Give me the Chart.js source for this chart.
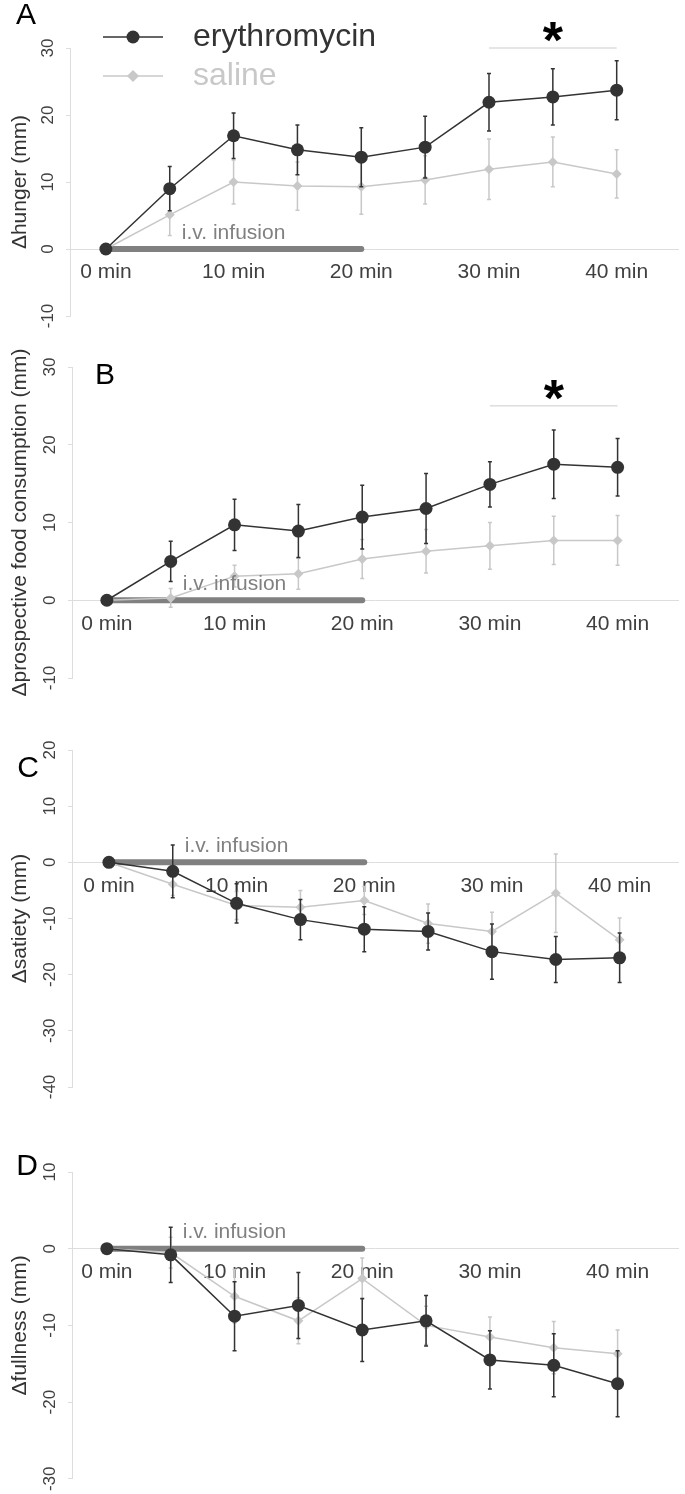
<!DOCTYPE html>
<html>
<head>
<meta charset="utf-8">
<script src="https://cdn.jsdelivr.net/npm/chart.js@4"></script>
<style>
	body { margin: 0; background: #fff; }
	#wrap { position: relative; width: 685px; height: 1494px; overflow: hidden; }
	canvas { position: absolute; left: 0; }
</style>
</head>
<body>
<div id="wrap">
	<canvas id="panelA" width="685" height="338" style="top:0px"></canvas>
	<canvas id="panelB" width="685" height="362" style="top:338px"></canvas>
	<canvas id="panelC" width="685" height="410" style="top:700px"></canvas>
	<canvas id="panelD" width="685" height="384" style="top:1110px"></canvas>
</div>
<script>
// time points and axis labels
const minutes = [0, 5, 10, 15, 20, 25, 30, 35, 40];
const xTicks = [0, 10, 20, 30, 40];
const xTickLabels = ["0 min", "10 min", "20 min", "30 min", "40 min"];
const seriesNames = ["erythromycin", "saline"];
const infusion = [0, 20];
const sigRange = [30, 40];

// A - hunger
const hungerEry = [0, 9.0, 16.9, 14.8, 13.7, 15.2, 21.9, 22.7, 23.7];
const hungerEryErr = [0, 3.3, 3.4, 3.7, 4.4, 4.6, 4.3, 4.2, 4.4];
const hungerSal = [0, 5.1, 10.0, 9.4, 9.3, 10.3, 11.9, 13.0, 11.2];
const hungerSalErr = [0, 3.1, 3.3, 3.6, 4.1, 3.6, 4.5, 3.7, 3.6];
const hungerTicks = [-10, 0, 10, 20, 30];

// B - prospective food consumption
const prospEry = [0, 5.0, 9.7, 8.9, 10.7, 11.8, 14.9, 17.5, 17.1];
const prospEryErr = [0, 2.6, 3.3, 3.4, 4.1, 4.5, 2.9, 4.4, 3.7];
const prospSal = [0, 0.3, 3.1, 3.4, 5.3, 6.3, 7.0, 7.7, 7.7];
const prospSalErr = [0, 1.2, 1.4, 2.0, 2.5, 2.8, 3.0, 3.1, 3.2];
const prospTicks = [-10, 0, 10, 20, 30];

// C - satiety
const satietyEry = [0, -1.6, -7.3, -10.2, -11.9, -12.3, -15.9, -17.3, -17.0];
const satietyEryErr = [0, 4.7, 3.5, 3.6, 4.0, 3.3, 4.9, 4.1, 4.4];
const satietySal = [0, -3.9, -7.7, -8.0, -6.8, -10.9, -12.3, -5.5, -13.8];
const satietySalErr = [0, 2.0, 2.5, 3.0, 2.5, 3.5, 3.4, 7.0, 3.9];
const satietyTicks = [-40, -30, -20, -10, 0, 10, 20];

// D - fullness
const fullnessEry = [0, -0.8, -8.8, -7.4, -10.6, -9.4, -14.5, -15.2, -17.6];
const fullnessEryErr = [0, 3.6, 4.5, 4.3, 4.1, 3.3, 3.8, 4.1, 4.3];
const fullnessSal = [0, -0.5, -6.2, -9.4, -3.9, -10.0, -11.5, -12.9, -13.7];
const fullnessSalErr = [0, 2.0, 3.5, 3.0, 2.7, 2.5, 2.6, 3.4, 3.1];
const fullnessTicks = [-30, -20, -10, 0, 10];

const FONT = "'Liberation Sans', Arial, sans-serif";
const ERY = "#333333";
const SAL = "#c8c8c8";
const BAR = "#808080";

Chart.defaults.font.family = FONT;
Chart.defaults.color = "#404040";
Chart.defaults.animation = false;

// error bars, letters, legend, notes
const extras = {
	id: "extras",
	beforeDatasetDraw(chart, args) {
		let ds = chart.data.datasets[args.index];
		if (!ds.errors) return;
		let xs = chart.scales.x;
		let ys = chart.scales.y;
		let ctx = chart.ctx;
		ctx.save();
		ctx.strokeStyle = ds.borderColor;
		ctx.lineWidth = 1.5;
		ds.data.forEach((p, i) => {
			let e = ds.errors[i];
			if (!e) return;
			let px = xs.getPixelForValue(p.x);
			let top = ys.getPixelForValue(p.y + e);
			let bot = ys.getPixelForValue(p.y - e);
			ctx.beginPath();
			ctx.moveTo(px, top);
			ctx.lineTo(px, bot);
			ctx.moveTo(px - 2, top);
			ctx.lineTo(px + 2, top);
			ctx.moveTo(px - 2, bot);
			ctx.lineTo(px + 2, bot);
			ctx.stroke();
		});
		ctx.restore();
	},
	afterDatasetsDraw(chart, args, o) {
		let ctx = chart.ctx;
		let xs = chart.scales.x;
		let ys = chart.scales.y;
		ctx.save();

		// panel letter
		ctx.fillStyle = "#000";
		ctx.font = "30px " + FONT;
		ctx.textAlign = "center";
		ctx.textBaseline = "middle";
		ctx.fillText(o.letter, o.letterX, o.letterY);

		// infusion label
		ctx.fillStyle = BAR;
		ctx.font = "21px " + FONT;
		ctx.fillText("i.v. infusion", xs.getPixelForValue(10), ys.getPixelForValue(0) - 16);

		// significance
		if (o.sigY !== undefined) {
			let y = ys.getPixelForValue(o.sigY);
			ctx.strokeStyle = "#cccccc";
			ctx.lineWidth = 1;
			ctx.beginPath();
			ctx.moveTo(xs.getPixelForValue(sigRange[0]), y);
			ctx.lineTo(xs.getPixelForValue(sigRange[1]), y);
			ctx.stroke();
			ctx.fillStyle = "#000";
			ctx.font = "bold 52px " + FONT;
			ctx.fillText("*", xs.getPixelForValue((sigRange[0] + sigRange[1]) / 2), y - 4);
		}

		// legend
		if (o.legend) {
			let rows = [37, 76];
			chart.data.datasets.slice(0, 2).forEach((ds, i) => {
				let y = rows[i];
				ctx.strokeStyle = ds.borderColor;
				ctx.lineWidth = 1.5;
				ctx.beginPath();
				ctx.moveTo(103, y);
				ctx.lineTo(163, y);
				ctx.stroke();
				ctx.fillStyle = ds.borderColor;
				ctx.beginPath();
				if (i === 0) {
					ctx.arc(133, y, 6.5, 0, Math.PI * 2);
				} else {
					ctx.moveTo(133, y - 6);
					ctx.lineTo(139, y);
					ctx.lineTo(133, y + 6);
					ctx.lineTo(127, y);
					ctx.closePath();
				}
				ctx.fill();
				ctx.font = "32px " + FONT;
				ctx.textAlign = "left";
				ctx.fillText(ds.label, 193, y);
			});
		}
		ctx.restore();
	},
};

function points(values) {
	return minutes.map((m, i) => ({ x: m, y: values[i] }));
}

function drawPanel(canvasId, p) {
	const ctx = document.getElementById(canvasId).getContext("2d");

	new Chart(ctx, {
		type: "line",
		data: {
			datasets: [
				{
					label: seriesNames[0],
					data: points(p.ery),
					errors: p.eryErr,
					borderColor: ERY,
					backgroundColor: ERY,
					borderWidth: 1.5,
					pointRadius: 6.5,
					pointBorderWidth: 0,
					order: 1,
				},
				{
					label: seriesNames[1],
					data: points(p.sal),
					errors: p.salErr,
					borderColor: SAL,
					backgroundColor: SAL,
					borderWidth: 1.5,
					pointStyle: "rectRot",
					pointRadius: 5,
					pointBorderWidth: 0,
					order: 2,
				},
				{
					label: "infusion",
					data: infusion.map((m) => ({ x: m, y: 0 })),
					borderColor: BAR,
					borderWidth: 6,
					borderCapStyle: "round",
					pointRadius: 0,
					order: 3,
				},
			],
		},
		options: {
			responsive: false,
			layout: {
				padding: { top: p.padTop, bottom: p.padBottom, left: 0, right: 5 },
			},
			plugins: {
				legend: { display: false },
				tooltip: { enabled: false },
				extras: {
					letter: p.letter,
					letterX: p.letterX,
					letterY: p.letterY,
					sigY: p.sigY,
					legend: p.legend,
				},
			},
			scales: {
				x: {
					type: "linear",
					position: { y: 0 },
					min: p.xMin,
					max: p.xMax,
					grid: { display: false },
					border: { display: true, color: "#dddddd", width: 1 },
					afterBuildTicks: (s) => {
						s.ticks = xTicks.map((v) => ({ value: v }));
					},
					ticks: {
						padding: 3,
						font: { size: 21 },
						color: "#404040",
						maxRotation: 0,
						autoSkip: false,
						callback: (v) => xTickLabels[xTicks.indexOf(v)],
					},
				},
				y: {
					type: "linear",
					position: "left",
					min: p.ticks[0],
					max: p.ticks[p.ticks.length - 1],
					grid: {
						display: true,
						drawOnChartArea: false,
						drawTicks: true,
						tickLength: 4,
						color: "#dddddd",
					},
					border: { display: true, color: "#dddddd", width: 1 },
					afterBuildTicks: (s) => {
						s.ticks = p.ticks.map((v) => ({ value: v }));
					},
					afterFit: (s) => {
						s.width = p.axisX;
					},
					ticks: {
						padding: 5,
						font: { size: 17 },
						color: "#404040",
						minRotation: 90,
						maxRotation: 90,
						crossAlign: "center",
						autoSkip: false,
					},
					title: {
						display: true,
						text: p.title,
						color: "#333333",
						font: { size: 21 },
						padding: { top: 8, bottom: 0 },
					},
				},
			},
		},
		plugins: [extras],
	});
}

drawPanel("panelA", {
	ery: hungerEry, eryErr: hungerEryErr, sal: hungerSal, salErr: hungerSalErr,
	ticks: hungerTicks, title: "\u0394hunger (mm)",
	padTop: 48, padBottom: 22, axisX: 70, xMin: -2.81, xMax: 44.84,
	letter: "A", letterX: 26, letterY: 16, sigY: 30, legend: true,
});

drawPanel("panelB", {
	ery: prospEry, eryErr: prospEryErr, sal: prospSal, salErr: prospSalErr,
	ticks: prospTicks, title: "\u0394prospective food consumption (mm)",
	padTop: 29, padBottom: 22, axisX: 72, xMin: -2.73, xMax: 44.77,
	letter: "B", letterX: 105, letterY: 38, sigY: 25, legend: false,
});

drawPanel("panelC", {
	ery: satietyEry, eryErr: satietyEryErr, sal: satietySal, salErr: satietySalErr,
	ticks: satietyTicks, title: "\u0394satiety (mm)",
	padTop: 50, padBottom: 23, axisX: 72, xMin: -2.89, xMax: 44.61,
	letter: "C", letterX: 28, letterY: 69, legend: false,
});

drawPanel("panelD", {
	ery: fullnessEry, eryErr: fullnessEryErr, sal: fullnessSal, salErr: fullnessSalErr,
	ticks: fullnessTicks, title: "\u0394fullness (mm)",
	padTop: 62, padBottom: 11, axisX: 72, xMin: -2.73, xMax: 44.77,
	letter: "D", letterX: 27, letterY: 57, legend: false,
});
</script>
</body>
</html>
